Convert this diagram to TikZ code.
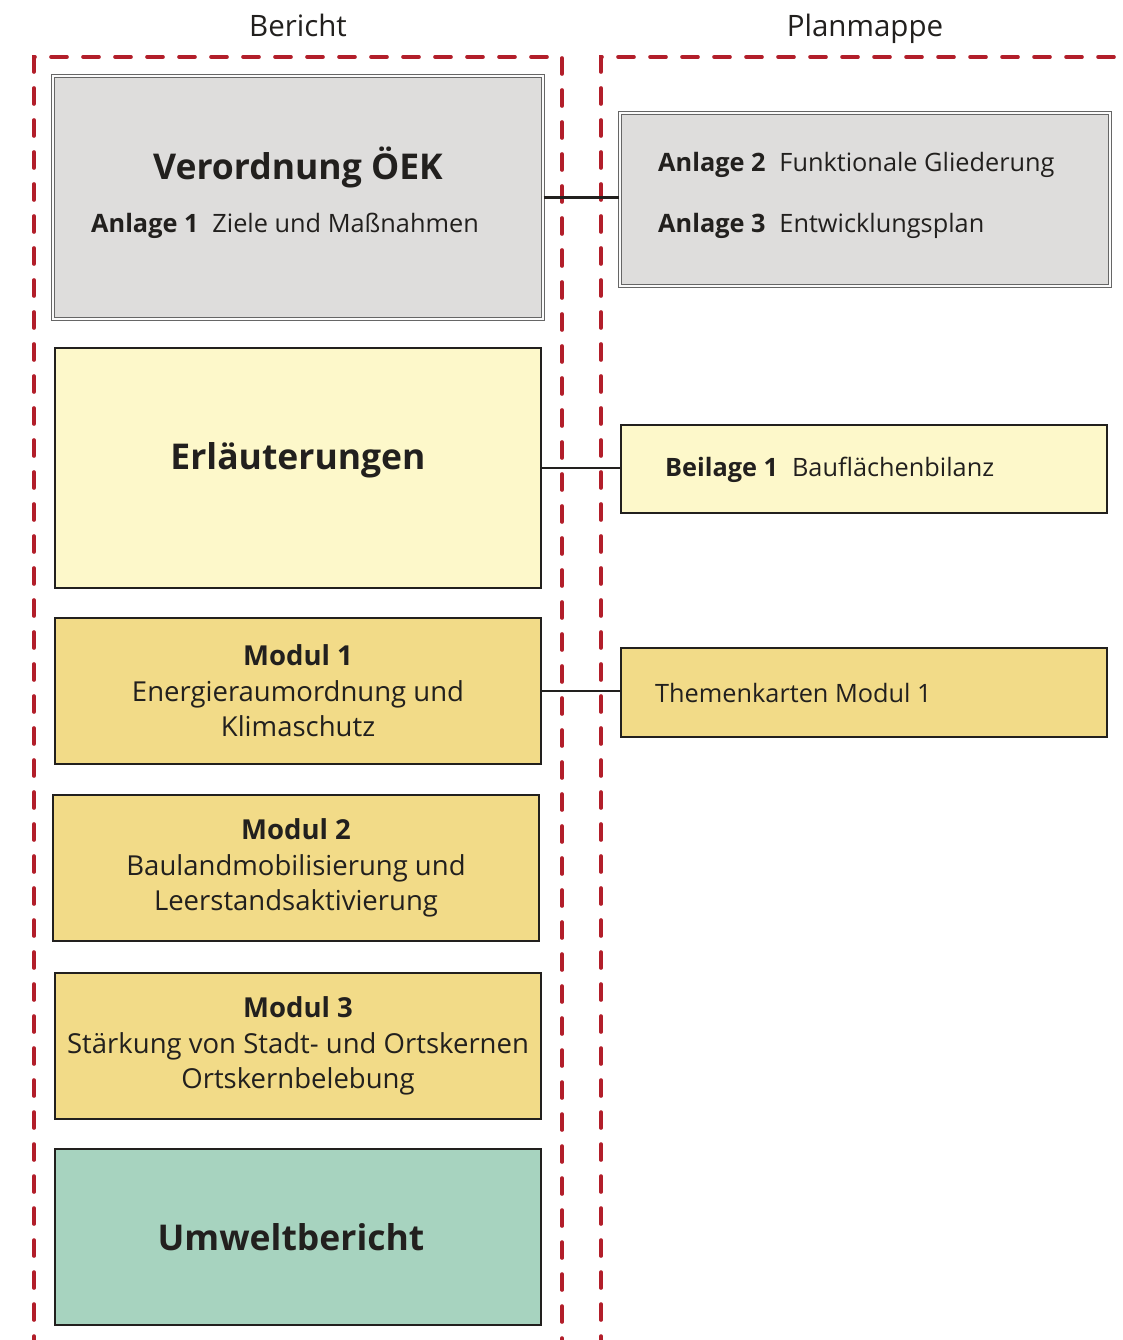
\documentclass[tikz,border=0pt]{standalone}
\usepackage{fontspec}
\setmainfont{Open Sans}
\usetikzlibrary{positioning, calc}
\definecolor{bgray}{RGB}{222,221,220}
\definecolor{byell}{RGB}{253,248,202}
\definecolor{bgold}{RGB}{242,219,136}
\definecolor{bgreen}{RGB}{167,211,191}
\definecolor{bred}{RGB}{178,30,42}
\definecolor{ink}{RGB}{34,32,30}

\begin{document}
\begin{tikzpicture}[
  x=1pt, y=-1pt, text=ink,
  box/.style ={rectangle, draw=ink, line width=2.9pt, inner sep=0pt, align=center},
  sheet/.style={rectangle, draw=black!60, line width=1.1pt, double=white!88!bgray,
                double distance=2.2pt, fill=bgray, inner sep=0pt},
  frame/.style={bred, line width=3.6pt, line cap=round, dash pattern=on 16pt off 16pt},
  link/.style ={ink, line width=2.9pt},
  head/.style ={anchor=base, font=\fontsize{29.5}{34}\selectfont},
  modtext/.style={font=\fontsize{27.5}{35.5}\selectfont},
  big/.style  ={font=\fontsize{35.5}{40}\selectfont\bfseries},
  item/.style ={anchor=west, font=\fontsize{25.3}{30}\selectfont, inner sep=0pt},
]
\useasboundingbox (0,0) rectangle (1122,1340);

% ---- column frames, open at the bottom
\draw[frame] (34,1352) -- (34,57) -- (562,57) -- (562,1352);
\draw[frame] (601,1352) -- (601,57) -- (1140,57);
\node[head] (bericht) at (298,37) {Bericht};
\node[head] (planm)   at (865,37) {Planmappe};

% ---- Bericht column
\node[sheet, minimum width=490, minimum height=243] (verord) at (298,197.5) {};
\node[big]  (vtitle) at (298,167) {Verordnung ÖEK};
\node[item] (anl1)   at (91,226) {\textbf{Anlage 1}\hspace{0.55em}Ziele und Maßnahmen};

\node[box, fill=byell, minimum width=486, minimum height=240] (erl) at (298,468) {};
\node[big] (erltxt) at (298,460) {Erläuterungen};

\node[box, fill=bgold, minimum width=486, minimum height=146, modtext] (mod1) at (298,691)
  {\textbf{Modul 1}\\Energieraumordnung und\\Klimaschutz};
\node[box, fill=bgold, minimum width=486, minimum height=146, modtext] (mod2) at (296,868)
  {\textbf{Modul 2}\\Baulandmobilisierung und\\Leerstandsaktivierung};
\node[box, fill=bgold, minimum width=486, minimum height=146, modtext] (mod3) at (298,1046)
  {\textbf{Modul 3}\\Stärkung von Stadt- und Ortskernen\\Ortskernbelebung};

\node[box, fill=bgreen, minimum width=486, minimum height=176] (umw) at (298,1237) {};
\node[big] (umwtxt) at (291,1237) {Umweltbericht};

% ---- Planmappe column
\node[sheet, minimum width=490, minimum height=173] (anlagen) at (865,199.5) {};
\node[item] (anl2) at (658,165) {\textbf{Anlage 2}\hspace{0.55em}Funktionale Gliederung};
\node[item] (anl3) at (658,226) {\textbf{Anlage 3}\hspace{0.55em}Entwicklungsplan};

\node[box, fill=byell, minimum width=486, minimum height=88] (beil) at (864,469) {};
\node[item] (beiltxt) at (665,470) {\textbf{Beilage 1}\hspace{0.55em}Bauflächenbilanz};

\node[box, fill=bgold, minimum width=486, minimum height=89] (themen) at (864,692.5) {};
\node[item] (themtxt) at (655,693) {Themenkarten Modul 1};

% ---- connectors
\draw[link] (verord.east) -- (verord.east -| anlagen.west);
\draw[link] (erl.east) -- (erl.east -| beil.west);
\draw[link] (mod1.east) -- (mod1.east -| themen.west);

\end{tikzpicture}
\end{document}
